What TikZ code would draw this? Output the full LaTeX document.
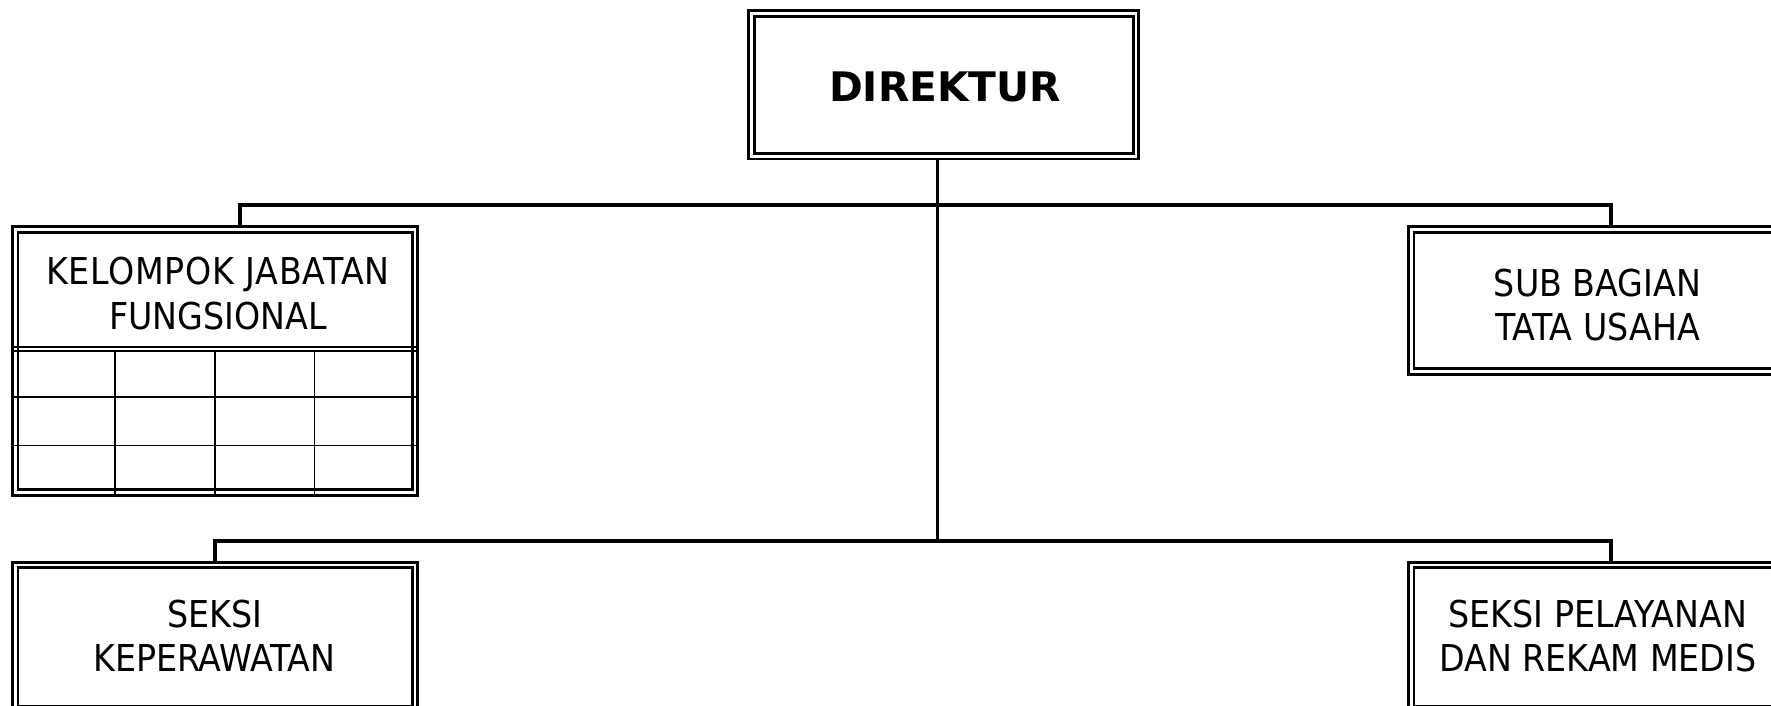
\documentclass[tikz,border=0pt]{standalone}
\usepackage{fontspec}
\newfontfamily\tah{DejaVu Sans Condensed}
\newfontfamily\tahb{DejaVu Sans}
\usetikzlibrary{backgrounds}
\begin{document}
\begin{tikzpicture}[x=1pt,y=-1pt,
  dbox/.style={draw=black, line width=2.8pt, double=white, double distance=2.7pt,
               fill=white, inner sep=0pt, outer sep=0pt},
  conn/.style={line width=3.6pt, line join=miter},
  gridline/.style={line width=1.6pt},
  lbl/.style={font=\tah\fontsize{37}{44.3}\selectfont, align=center, inner sep=0pt},
  blbl/.style={font=\tahb\bfseries\fontsize{40.7}{48}\selectfont, inner sep=0pt}]

\path[use as bounding box] (0,0) rectangle (1771,705);

% boxes
\node[dbox, minimum width=384.6pt, minimum height=142.8pt] (dir) at (943.8,84.8) {};
\node[dbox, minimum width=399.75pt, minimum height=263.1pt] (kel) at (215.1,361.05) {};
\node[dbox, minimum width=399.75pt, minimum height=142.1pt] (sub) at (1611.2,300.55) {};
\node[dbox, minimum width=399.75pt, minimum height=144pt] (kep) at (215.1,637) {};
\node[dbox, minimum width=399.75pt, minimum height=144pt] (pel) at (1611.2,637) {};

% texts
\node[blbl] (dirt) at (945,86.5) {DIREKTUR};
\node[lbl] (kelt) at (218,293.5) {\addfontfeature{LetterSpace=2}KELOMPOK JABATAN\\FUNGSIONAL};
\node[lbl] (subt) at (1597.5,305) {SUB BAGIAN\\TATA USAHA};
\node[lbl] (kept) at (214.5,636) {SEKSI\\KEPERAWATAN};
\node[lbl] (pelt) at (1598,636) {SEKSI PELAYANAN\\DAN REKAM MEDIS};

% table of the functional group box
\coordinate (kl) at (12.8,0);
\coordinate (kr) at (417.4,0);
\draw[line width=1.6pt] (kl |- 0,346.8) -- (kr |- 0,346.8);
\draw[line width=2.2pt] (kl |- 0,351.3) -- (kr |- 0,351.3);
\foreach \yy in {397.2,445.3}
  \draw[gridline] (kl |- 0,\yy) -- (kr |- 0,\yy);
\foreach \xx in {115,215,314.3}
  \draw[gridline] (\xx,351.3) -- (\xx,494.7);

% connectors
\coordinate (kt) at (240,205);
\coordinate (tr) at (937.3,541);
\begin{scope}[on background layer]
  \fill[white] (0,0) rectangle (1771,705);
  \draw[conn] (kt |- kel.north) -- (kt) -- (sub.north |- kt) -- (sub.north);
  \draw[conn] (tr |- dir.south) -- (tr);
  \draw[conn] (kep.north) -- (kep.north |- tr) -- (pel.north |- tr) -- (pel.north);
\end{scope}
\end{tikzpicture}
\end{document}
